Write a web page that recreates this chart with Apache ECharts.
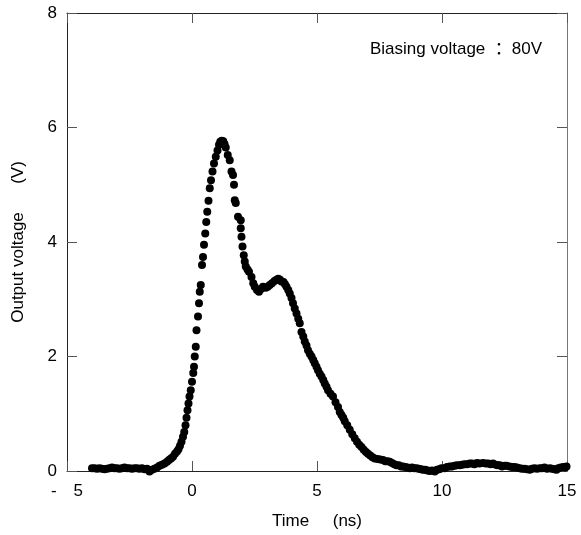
<!DOCTYPE html>
<html>
<head>
<meta charset="utf-8">
<script src="https://cdn.jsdelivr.net/npm/echarts@6/dist/echarts.min.js"></script>
<style>
  html, body { margin: 0; padding: 0; background: #fff; }
  #chart { width: 581px; height: 535px; }
</style>
</head>
<body>
<div id="chart"></div>
<script>
// time (ns) of each sample and the output voltage (V)
const times = [
  -4.0, -3.9, -3.8, -3.7, -3.6, -3.5, -3.4, -3.3, -3.2, -3.1,
  -3.0, -2.9, -2.8, -2.7, -2.6, -2.5, -2.4, -2.3, -2.2, -2.1,
  -2.0, -1.9, -1.8, -1.7, -1.6, -1.5, -1.4, -1.3, -1.2, -1.1,
  -1.0, -0.92, -0.84, -0.76, -0.68, -0.6, -0.54, -0.48, -0.42, -0.36,
  -0.31, -0.26, -0.22, -0.18, -0.14, -0.1, -0.05, 0.0, 0.05, 0.08,
  0.11, 0.15, 0.18, 0.24, 0.28, 0.31, 0.35, 0.40, 0.44, 0.48,
  0.53, 0.57, 0.61, 0.66, 0.71, 0.76, 0.82, 0.88, 0.95, 1.02,
  1.08, 1.13, 1.19, 1.25, 1.3, 1.35, 1.43, 1.51, 1.58, 1.64,
  1.68, 1.71, 1.75, 1.84, 1.95, 1.95, 1.98, 2.02, 2.07, 2.11,
  2.15, 2.22, 2.28, 2.38, 2.45, 2.51, 2.6, 2.68, 2.76, 2.84,
  2.95, 3.03, 3.11, 3.2, 3.3, 3.38, 3.45, 3.52, 3.58, 3.66,
  3.72, 3.78, 3.85, 3.91, 3.98, 4.04, 4.11, 4.18, 4.25, 4.31,
  4.38, 4.45, 4.51, 4.58, 4.64, 4.71, 4.78, 4.85, 4.91, 4.98,
  5.04, 5.11, 5.18, 5.25, 5.31, 5.38, 5.44, 5.54, 5.64, 5.74,
  5.84, 5.91, 5.98, 6.05, 6.11, 6.21, 6.31, 6.41, 6.51, 6.6,
  6.69, 6.78, 6.87, 6.96, 7.04, 7.13, 7.22, 7.31, 7.42, 7.53,
  7.64, 7.73, 7.82, 7.91, 8.0, 8.09, 8.18, 8.27, 8.36, 8.44,
  8.53, 8.62, 8.71, 8.8, 8.89, 8.98, 9.07, 9.16, 9.24, 9.33,
  9.42, 9.51, 9.6, 9.71, 9.8, 9.89, 9.98, 10.1, 10.2, 10.31,
  10.4, 10.5, 10.6, 10.71, 10.8, 10.9, 11.0, 11.11, 11.2, 11.3,
  11.4, 11.5, 11.64, 11.75, 11.85, 11.95, 12.04, 12.15, 12.23, 12.31,
  12.4, 12.5, 12.58, 12.7, 12.8, 12.9, 13.0, 13.11, 13.2, 13.3,
  13.4, 13.51, 13.6, 13.7, 13.8, 13.91, 14.0, 14.1, 14.2, 14.31,
  14.4, 14.5, 14.58, 14.65, 14.75, 14.85, 14.92, 14.98
];
const volts = [
  0.05, 0.05, 0.04, 0.05, 0.04, 0.03, 0.04, 0.05, 0.06, 0.05,
  0.05, 0.04, 0.05, 0.06, 0.05, 0.05, 0.04, 0.05, 0.05, 0.04,
  0.05, 0.03, 0.04, -0.01, 0.02, 0.04, 0.06, 0.09, 0.11, 0.13,
  0.16, 0.19, 0.22, 0.25, 0.3, 0.34, 0.38, 0.44, 0.51, 0.6,
  0.68, 0.8, 0.93, 1.06, 1.18, 1.3, 1.41, 1.56, 1.71, 1.82,
  2.0, 2.17, 2.46, 2.7, 2.93, 3.13, 3.25, 3.6, 3.74, 3.95,
  4.15, 4.35, 4.53, 4.72, 4.94, 5.08, 5.23, 5.37, 5.49, 5.6,
  5.7, 5.75, 5.77, 5.76, 5.71, 5.65, 5.52, 5.43, 5.23, 5.17,
  5.0, 4.73, 4.68, 4.44, 4.38, 4.24, 4.09, 3.92, 3.77, 3.66,
  3.57, 3.52, 3.48, 3.39, 3.28, 3.22, 3.16, 3.13, 3.18, 3.22,
  3.2, 3.22, 3.25, 3.28, 3.32, 3.34, 3.36, 3.34, 3.31, 3.3,
  3.26, 3.22, 3.16, 3.1, 3.02, 2.93, 2.84, 2.75, 2.66, 2.58,
  2.43, 2.35, 2.26, 2.19, 2.11, 2.05, 2.0, 1.94, 1.88, 1.82,
  1.76, 1.7, 1.65, 1.59, 1.53, 1.47, 1.41, 1.35, 1.3, 1.2,
  1.12, 1.03, 0.98, 0.93, 0.87, 0.8, 0.72, 0.64, 0.57, 0.51,
  0.46, 0.42, 0.37, 0.33, 0.3, 0.27, 0.24, 0.22, 0.21, 0.2,
  0.19, 0.17, 0.17, 0.16, 0.14, 0.12, 0.1, 0.1, 0.08, 0.08,
  0.07, 0.06, 0.05, 0.06, 0.05, 0.05, 0.04, 0.03, 0.02, 0.02,
  0.01, 0.0, 0.01, -0.01, 0.02, 0.03, 0.05, 0.05, 0.07, 0.08,
  0.08, 0.09, 0.1, 0.1, 0.11, 0.12, 0.12, 0.13, 0.13, 0.12,
  0.14, 0.13, 0.14, 0.13, 0.13, 0.12, 0.13, 0.11, 0.1, 0.1,
  0.08, 0.09, 0.09, 0.08, 0.07, 0.07, 0.06, 0.05, 0.04, 0.04,
  0.03, 0.02, 0.04, 0.05, 0.04, 0.05, 0.05, 0.06, 0.04, 0.05,
  0.04, 0.03, 0.02, 0.05, 0.06, 0.07, 0.06, 0.08
];

const xTicks = { min: -5, max: 15, interval: 5 };
const yTicks = { min: 0, max: 8, interval: 2 };

const font = "'Liberation Sans', Arial, 'Noto Sans CJK SC', sans-serif";
const textColor = '#000';
const lineColor = '#222';
const tickColor = '#555';

const chart = echarts.init(document.getElementById('chart'));

const frameAxis = (extra) => Object.assign({
  type: 'value',
  axisLine: { show: true, onZero: false, lineStyle: { color: lineColor, width: 1 } },
  axisTick: { show: true, inside: true, length: 10, lineStyle: { color: tickColor } },
  axisLabel: { show: false },
  splitLine: { show: false }
}, extra);

chart.setOption({
  backgroundColor: '#fff',
  animation: false,
  textStyle: { fontFamily: font },
  grid: { left: 67, right: 14, top: 13, bottom: 64 },
  xAxis: [
    frameAxis({
      position: 'bottom',
      ...xTicks,
      name: 'Time     (ns)',
      nameLocation: 'middle',
      nameGap: 42,
      nameTextStyle: { color: textColor, fontSize: 17, fontFamily: font },
      axisLabel: {
        show: true, margin: 12, color: textColor, fontSize: 17, fontFamily: font,
        formatter: v => (v < 0 ? '-\u3000' + Math.abs(v) : String(v))
      }
    }),
    frameAxis({ position: 'top', ...xTicks })
  ],
  yAxis: [
    frameAxis({
      position: 'left',
      ...yTicks,
      name: 'Output voltage      (V)',
      nameLocation: 'middle',
      nameGap: 40,
      nameTextStyle: { color: textColor, fontSize: 17, fontFamily: font },
      axisLabel: { show: true, margin: 10, color: textColor, fontSize: 17, fontFamily: font }
    }),
    frameAxis({
      position: 'right',
      ...yTicks,
      axisLine: { show: true, onZero: false, lineStyle: { color: '#777', width: 1 } }
    })
  ],
  graphic: [{
    type: 'text',
    right: 39,
    top: 41,
    style: {
      text: 'Biasing voltage  ：80V',
      fill: textColor,
      font: '17px ' + font
    }
  }],
  series: [{
    type: 'scatter',
    symbol: 'circle',
    symbolSize: 8,
    clip: false,
    itemStyle: { color: '#000', opacity: 1 },
    data: times.map((t, i) => [t, volts[i]])
  }]
});
</script>
</body>
</html>
